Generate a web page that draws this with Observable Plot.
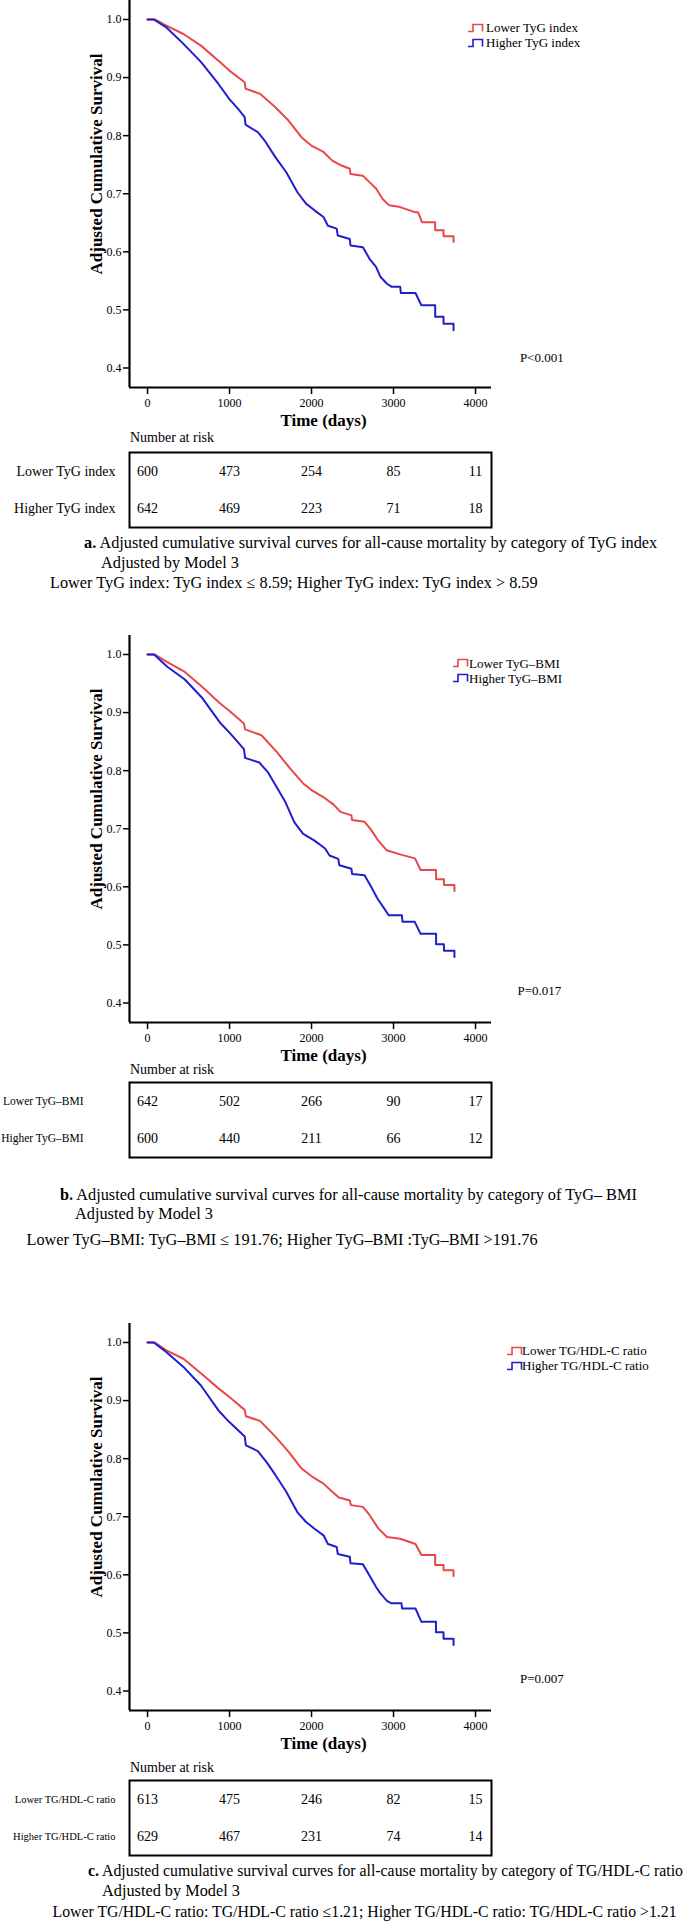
<!DOCTYPE html>
<html><head><meta charset="utf-8">
<script src="https://cdn.jsdelivr.net/npm/d3@7"></script>
<script src="https://cdn.jsdelivr.net/npm/@observablehq/plot@0.6"></script>
<style>
body{margin:0;background:#fff;}
#page{position:relative;width:685px;height:1921px;overflow:hidden;font-family:"Liberation Serif","Times New Roman",serif;color:#000;background:#fff;}
.abs{position:absolute;white-space:nowrap;line-height:1;}
</style></head><body><div id="page"></div>
<script>
// ---------- data ----------
const xTicks = [0, 1000, 2000, 3000, 4000];
const yTicks = [0.4, 0.5, 0.6, 0.7, 0.8, 0.9, 1.0];
const riskTimes = [0, 1000, 2000, 3000, 4000];
const xTitle = "Time (days)";
const yTitle = "Adjusted Cumulative Survival";

// Panel a: TyG index
const aGroups = ["Lower TyG index", "Higher TyG index"];
const aLowT = [0,90,224,438,651,865,998,1185,1195,1372,1559,1719,1879,1997,2146,2253,2360,2467,2475,2627,2707,2787,2867,2947,3081,3268,3300,3348,3508,3508,3610,3610,3732,3732];
const aLowS = [1.0,1.0,0.990,0.975,0.955,0.929,0.912,0.892,0.881,0.872,0.849,0.826,0.797,0.783,0.772,0.757,0.749,0.743,0.734,0.731,0.720,0.709,0.691,0.680,0.677,0.668,0.668,0.651,0.651,0.637,0.637,0.627,0.627,0.617];
const aHighT = [0,75,224,438,651,865,998,1105,1185,1195,1345,1426,1559,1692,1826,1933,2040,2146,2200,2307,2320,2467,2475,2627,2707,2787,2840,2920,2974,3081,3090,3268,3340,3508,3508,3610,3610,3732,3732];
const aHighS = [1.0,1.0,0.987,0.958,0.927,0.889,0.863,0.846,0.832,0.819,0.806,0.792,0.763,0.737,0.703,0.683,0.671,0.660,0.645,0.640,0.628,0.622,0.611,0.608,0.588,0.574,0.557,0.545,0.540,0.540,0.529,0.529,0.508,0.508,0.488,0.488,0.476,0.476,0.465];
const aRiskLow = [600, 473, 254, 85, 11];
const aRiskHigh = [642, 469, 223, 71, 18];
const aP = "P<0.001";
const aCaption = ["a.", " Adjusted cumulative survival curves for all-cause mortality by category of TyG index"];
const aModel = "Adjusted by Model 3";
const aDef = "Lower TyG index: TyG index \u2264 8.59; Higher TyG index: TyG index > 8.59";

// Panel b: TyG–BMI
const bGroups = ["Lower TyG\u2013BMI", "Higher TyG\u2013BMI"];
const bLowT = [0,90,241,455,668,882,989,1176,1190,1390,1578,1738,1898,2005,2139,2273,2353,2487,2495,2647,2727,2807,2914,3102,3262,3330,3519,3519,3615,3615,3743,3743];
const bLowS = [1.0,1.0,0.987,0.970,0.944,0.916,0.904,0.881,0.871,0.861,0.832,0.804,0.778,0.766,0.755,0.741,0.729,0.723,0.715,0.712,0.698,0.681,0.663,0.655,0.649,0.629,0.629,0.613,0.613,0.603,0.603,0.593];
const bHighT = [0,80,241,455,668,882,1016,1176,1190,1363,1470,1578,1684,1791,1898,2032,2166,2219,2326,2340,2487,2495,2647,2727,2807,2861,2941,3102,3110,3257,3330,3519,3519,3615,3615,3743,3743];
const bHighS = [1.0,1.0,0.979,0.957,0.925,0.883,0.863,0.837,0.822,0.814,0.797,0.771,0.745,0.711,0.691,0.680,0.666,0.654,0.648,0.637,0.631,0.622,0.620,0.600,0.579,0.568,0.551,0.551,0.540,0.540,0.519,0.519,0.501,0.501,0.490,0.490,0.479];
const bRiskLow = [642, 502, 266, 90, 17];
const bRiskHigh = [600, 440, 211, 66, 12];
const bP = "P=0.017";
const bCaption = ["b.", " Adjusted cumulative survival curves for all-cause mortality by category of TyG\u2013 BMI"];
const bModel = "Adjusted by Model 3";
const bDef = "Lower TyG\u2013BMI: TyG\u2013BMI \u2264 191.76; Higher TyG\u2013BMI :TyG\u2013BMI >191.76";

// Panel c: TG/HDL-C ratio
const cGroups = ["Lower TG/HDL-C ratio", "Higher TG/HDL-C ratio"];
const cLowT = [0,90,224,438,651,865,998,1185,1200,1372,1559,1719,1879,1997,2146,2253,2333,2467,2480,2627,2707,2814,2920,3081,3268,3340,3508,3508,3610,3610,3732,3732];
const cLowS = [1.0,1.0,0.987,0.972,0.947,0.921,0.906,0.884,0.873,0.865,0.838,0.812,0.783,0.770,0.757,0.743,0.733,0.728,0.720,0.717,0.703,0.680,0.665,0.662,0.653,0.634,0.634,0.617,0.617,0.608,0.608,0.598];
const cHighT = [0,75,224,438,651,865,998,1185,1200,1345,1452,1559,1692,1826,1933,2040,2146,2200,2307,2320,2467,2475,2627,2707,2787,2840,2920,2974,3097,3105,3268,3340,3518,3518,3610,3610,3732,3732];
const cHighS = [1.0,1.0,0.984,0.958,0.926,0.883,0.863,0.838,0.823,0.813,0.794,0.772,0.743,0.708,0.691,0.679,0.668,0.653,0.648,0.636,0.631,0.620,0.618,0.599,0.579,0.568,0.555,0.551,0.551,0.542,0.542,0.519,0.519,0.501,0.501,0.490,0.490,0.479];
const cRiskLow = [613, 475, 246, 82, 15];
const cRiskHigh = [629, 467, 231, 74, 14];
const cP = "P=0.007";
const cCaption = ["c.", " Adjusted cumulative survival curves for all-cause mortality by category of TG/HDL-C ratio"];
const cModel = "Adjusted by Model 3";
const cDef = "Lower TG/HDL-C ratio: TG/HDL-C ratio \u22641.21; Higher TG/HDL-C ratio: TG/HDL-C ratio >1.21";

// ---------- styling / layout ----------
const RED = "#e8474b", BLUE = "#1f1fcf";
const xDomain = [-220, 4195];
const yDomain = [0.3664, 1.0327];
const FONT = "'Liberation Serif','Times New Roman',serif";

const panels = [
  {groups:aGroups, lowT:aLowT, lowS:aLowS, highT:aHighT, highS:aHighS, riskLow:aRiskLow, riskHigh:aRiskHigh, p:aP, caption:aCaption, model:aModel, def:aDef,
   top:0, boxTop:452, nrY:438, labelSize:14, labelPad:14,
   legX:468, legTextX:486, legY:[27.7,42.7], pX:520, pY:358,
   capY:[543,563,583.5], capX:[84,101,50], capSize:[16.3,16.3,16.3]},
  {groups:bGroups, lowT:bLowT, lowS:bLowS, highT:bHighT, highS:bHighS, riskLow:bRiskLow, riskHigh:bRiskHigh, p:bP, caption:bCaption, model:bModel, def:bDef,
   top:635, boxTop:1082, nrY:1070, labelSize:11.5, labelPad:46,
   legX:453, legTextX:469, legY:[663.3,678.3], pX:517.5, pY:990.7,
   capY:[1195,1214,1240.5], capX:[60,75,26.5], capSize:[16.3,16.3,16.3]},
  {groups:cGroups, lowT:cLowT, lowS:cLowS, highT:cHighT, highS:cHighS, riskLow:cRiskLow, riskHigh:cRiskHigh, p:cP, caption:cCaption, model:cModel, def:cDef,
   top:1323, boxTop:1780, nrY:1768, labelSize:10.5, labelPad:14,
   legX:506.6, legTextX:522, legY:[1350.7,1365.7], pX:520, pY:1678.3,
   capY:[1871.5,1891.5,1912], capX:[88,102,52.5], capSize:[15.8,16.3,15.8]}
];

const page = document.getElementById("page");

function addText(str, x, yc, size, opts = {}) {
  const d = document.createElement("div");
  d.className = "abs";
  d.style.fontSize = size + "px";
  d.style.left = x + "px";
  d.style.top = (yc - 0.51 * size) + "px";
  if (opts.bold) d.style.fontWeight = "bold";
  if (opts.html) d.innerHTML = str; else d.textContent = str;
  page.appendChild(d);
  return d;
}

function addLegendSymbol(x, yc, color) {
  const ns = "http://www.w3.org/2000/svg";
  const s = document.createElementNS(ns, "svg");
  s.setAttribute("width", 16); s.setAttribute("height", 10);
  s.style.position = "absolute"; s.style.left = x + "px"; s.style.top = (yc - 5) + "px";
  const p = document.createElementNS(ns, "path");
  p.setAttribute("d", "M0,8.5 H5 V1.5 H14.5 V8.5");
  p.setAttribute("fill", "none"); p.setAttribute("stroke", color); p.setAttribute("stroke-width", "1.6");
  s.appendChild(p);
  page.appendChild(s);
}

const baseStyle = {fontFamily: FONT, fontSize: "12px", background: "transparent", overflow: "visible", color: "#000"};

panels.forEach(P => {
  const low = P.lowT.map((t, i) => ({t, s: P.lowS[i]}));
  const high = P.highT.map((t, i) => ({t, s: P.highS[i]}));

  const chart = Plot.plot({
    width: 685, height: 436, marginTop: 4, marginBottom: 45, marginLeft: 129, marginRight: 194,
    style: baseStyle,
    x: {domain: xDomain, label: null},
    y: {domain: yDomain, label: null},
    marks: [
      Plot.line(low, {x: "t", y: "s", stroke: RED, strokeWidth: 2}),
      Plot.line(high, {x: "t", y: "s", stroke: BLUE, strokeWidth: 2}),
      Plot.ruleX([xDomain[0]], {stroke: "#000", strokeWidth: 2.2}),
      Plot.ruleY([yDomain[0]], {stroke: "#000", strokeWidth: 2.2}),
      Plot.axisX(xTicks, {tickSize: 7, tickPadding: 4, strokeWidth: 1.5, fontSize: 12, tickFormat: d => String(d), label: null}),
      Plot.axisY(yTicks, {tickSize: 6, tickPadding: 2, strokeWidth: 1.5, fontSize: 12, tickFormat: d3.format(".1f"), label: null}),
      Plot.text([yTitle], {frameAnchor: "left", textAnchor: "middle", lineAnchor: "middle", rotate: -90, dx: -33, dy: -30, fontWeight: "bold", fontSize: 17}),
      Plot.text([xTitle], {frameAnchor: "bottom", textAnchor: "middle", lineAnchor: "middle", dx: 13, dy: 33, fontWeight: "bold", fontSize: 17})
    ]
  });
  chart.style.position = "absolute";
  chart.style.left = "0px";
  chart.style.top = (P.top - 4) + "px";
  page.appendChild(chart);

  const risk = [];
  riskTimes.forEach((t, i) => {
    risk.push({t, row: P.groups[0], n: P.riskLow[i]});
    risk.push({t, row: P.groups[1], n: P.riskHigh[i]});
  });
  const table = Plot.plot({
    width: 685, height: 79, marginTop: 2, marginBottom: 2, marginLeft: 129, marginRight: 194,
    style: baseStyle,
    x: {domain: xDomain, label: null, axis: null},
    y: {type: "point", domain: P.groups, label: null, padding: 0.5},
    marks: [
      Plot.frame({stroke: "#000", strokeWidth: 2}),
      Plot.axisY({tickSize: 0, tickPadding: P.labelPad, fontSize: P.labelSize, label: null}),
      Plot.text(risk, {x: "t", y: "row", text: "n", fontSize: 14})
    ]
  });
  table.style.position = "absolute";
  table.style.left = "0px";
  table.style.top = (P.boxTop - 2) + "px";
  page.appendChild(table);

  addText("Number at risk", 130, P.nrY, 14);

  // legend
  addLegendSymbol(P.legX, P.legY[0], RED);
  addText(P.groups[0], P.legTextX, P.legY[0], 13);
  addLegendSymbol(P.legX, P.legY[1], BLUE);
  addText(P.groups[1], P.legTextX, P.legY[1], 13);

  addText(P.p, P.pX, P.pY, 13);

  addText("<b>" + P.caption[0] + "</b>" + P.caption[1], P.capX[0], P.capY[0], P.capSize[0], {html: true});
  addText(P.model, P.capX[1], P.capY[1], P.capSize[1]);
  addText(P.def, P.capX[2], P.capY[2], P.capSize[2]);
});
</script></body></html>
